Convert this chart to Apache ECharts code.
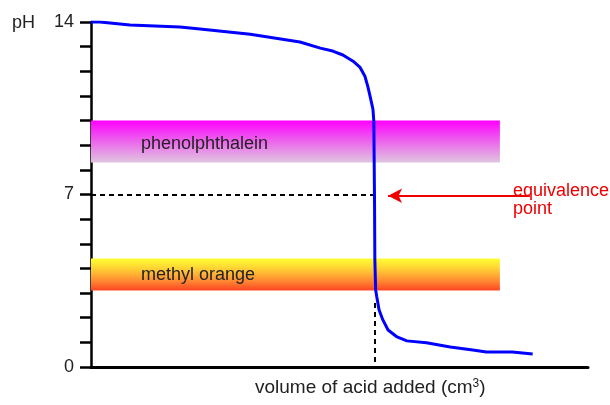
<!DOCTYPE html>
<html>
<head>
<meta charset="utf-8">
<script src="https://cdn.jsdelivr.net/npm/echarts@6/dist/echarts.min.js"></script>
<style>
  html, body { margin: 0; padding: 0; background: #fff; }
  #chart { width: 610px; height: 405px; }
</style>
</head>
<body>
<div id="chart"></div>
<script>
// titration curve: volume (cm3) vs pH
const volume = [0, 0.8, 3.45, 5.66, 7.88, 9.65, 14.1, 18.5, 20.3, 21.4, 22.3, 23.2, 23.8, 24.25, 24.5, 24.7, 24.96, 25.04, 25.1, 25.13, 25.2, 25.3, 25.5, 25.84, 26.3, 27.1, 27.96, 29.7, 31.8, 33.8, 35.0, 37.3, 39.1];
const pH = [14.0, 14.0, 13.88, 13.84, 13.8, 13.72, 13.5, 13.19, 12.94, 12.82, 12.66, 12.41, 12.17, 11.8, 11.4, 11.0, 10.46, 9.97, 6.8, 4.35, 3.13, 2.85, 2.32, 1.91, 1.5, 1.22, 1.06, 0.98, 0.81, 0.69, 0.61, 0.61, 0.53];
const yLabels = [0, 7, 14];

// indicator ranges
const phenolRange = [8.3, 10];
const methylRange = [3.1, 4.4];
const bandEnd = 36.2;
const equivalence = [25.1, 7];
const arrowFrom = 38.85;
const arrowTo = 26.3;

const chart = echarts.init(document.getElementById('chart'));
const font = '"Liberation Sans", Arial, sans-serif';

chart.setOption({
  animation: false,
  grid: { left: 91, right: 22, top: 22, bottom: 38 },
  xAxis: {
    type: 'value', min: 0, max: 44,
    axisLine: { lineStyle: { color: '#000', width: 3 } },
    axisTick: { show: false },
    axisLabel: { show: false },
    splitLine: { show: false }
  },
  yAxis: {
    type: 'value', min: 0, max: 14, interval: 1,
    axisLine: { show: true, lineStyle: { color: '#000', width: 2.5 } },
    axisTick: { show: true, length: 11, lineStyle: { color: '#000', width: 2.5 } },
    axisLabel: {
      margin: 17, color: '#222', fontSize: 18, fontFamily: font,
      formatter: v => yLabels.includes(v) ? String(v) : ''
    },
    splitLine: { show: false }
  },
  series: [{
    type: 'line',
    data: volume.map((v, i) => [v, pH[i]]),
    showSymbol: false,
    lineStyle: { color: '#0000ff', width: 3 },
    z: 5,
    markArea: {
      silent: true,
      data: [
        [{
          xAxis: 0, yAxis: phenolRange[1],
          itemStyle: {
            color: new echarts.graphic.LinearGradient(0, 0, 0, 1, [
              { offset: 0, color: '#ff00ff' },
              { offset: 0.5, color: '#ec66ec' },
              { offset: 1, color: '#dfc6df' }
            ])
          },
          label: { show: true, position: 'insideLeft', distance: 50, offset: [0, 3], formatter: 'phenolphthalein', color: '#222', fontSize: 18, fontFamily: font }
        }, { xAxis: bandEnd, yAxis: phenolRange[0] }],
        [{
          xAxis: 0, yAxis: methylRange[1],
          itemStyle: {
            color: new echarts.graphic.LinearGradient(0, 0, 0, 1, [
              { offset: 0, color: '#ffff33' },
              { offset: 0.35, color: '#ffcc33' },
              { offset: 0.7, color: '#ff8833' },
              { offset: 1, color: '#ff4422' }
            ])
          },
          label: { show: true, position: 'insideLeft', distance: 50, formatter: 'methyl orange', color: '#222', fontSize: 18, fontFamily: font }
        }, { xAxis: bandEnd, yAxis: methylRange[0] }]
      ]
    },
    markLine: {
      silent: true,
      symbol: 'none',
      label: { show: false },
      lineStyle: { color: '#000', width: 2, type: [5, 4] },
      data: [
        [{ coord: [0, equivalence[1]] }, { coord: [equivalence[0], equivalence[1]] }],
        [{ coord: [equivalence[0], 2.6] }, { coord: [equivalence[0], 0] }],
        [{ coord: [arrowFrom, equivalence[1] - 0.05], symbol: 'none' },
         { coord: [arrowTo, equivalence[1] - 0.05], symbol: 'arrow', symbolSize: [11, 14],
           lineStyle: { color: '#ee0000', width: 2, type: 'solid' } }]
      ]
    }
  }],
  graphic: [
    { type: 'text', left: 12, top: 14, style: { text: 'pH', fill: '#222', font: '18px ' + font } },
    { type: 'text', left: 513, top: 182, style: { text: 'equivalence\npoint', fill: '#ee0000', font: '18px ' + font, lineHeight: 18 } },
    { type: 'text', left: 255, top: 378, style: {
        rich: {
          a: { fontSize: 19, fontFamily: font, fill: '#222' },
          s: { fontSize: 12, fontFamily: font, fill: '#222', verticalAlign: 'top', padding: [0, 0, 8, 0] }
        },
        text: '{a|volume of acid added (cm}{s|3}{a|)}'
      } }
  ]
});
</script>
</body>
</html>
